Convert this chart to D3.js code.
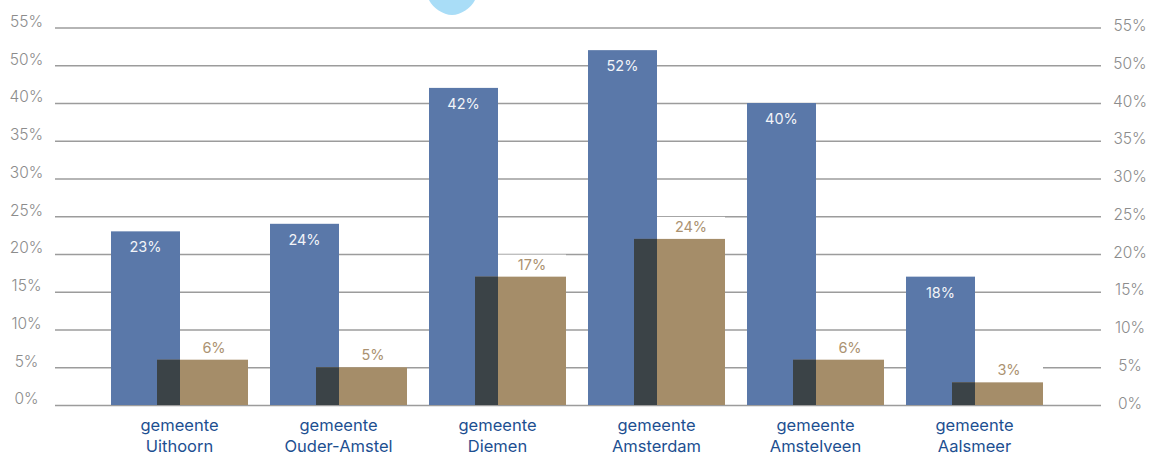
<!DOCTYPE html>
<meta charset="utf-8">
<style>
body { margin: 0; background: #fff; }
svg text { font-family: Inter, "Open Sans", sans-serif; }
.grid line { stroke: #9c9c9c; stroke-width: 1.3px; }
.grid text { fill: #8c8c8c; font-size: 15.5px; font-weight: 300; }
.cat { fill: #1d4f91; font-size: 16.5px; }
</style>
<svg width="1149" height="455"></svg>
<script src="https://d3js.org/d3.v7.min.js"></script>
<script>

// data
var categories = ["gemeente Uithoorn", "gemeente Ouder-Amstel", "gemeente Diemen",
                  "gemeente Amsterdam", "gemeente Amstelveen", "gemeente Aalsmeer"];
// bar heights as drawn (percent)
var blueValues = [23, 24, 42, 47, 40, 17];
var tanValues = [6, 5, 17, 22, 6, 3];
// labels as printed on the bars
var blueLabels = ["23%", "24%", "42%", "52%", "40%", "18%"];
var tanLabels = ["6%", "5%", "17%", "24%", "6%", "3%"];
// ticks (the printed axis skips 45%)
var tickValues = [0, 5, 10, 15, 20, 25, 30, 35, 40, 45, 50];
var tickLabels = ["0%", "5%", "10%", "15%", "20%", "25%", "30%", "35%", "40%", "50%", "55%"];

var svg = d3.select("svg");

var gridLeft = 55, gridRight = 1101;

var x = d3.scaleBand().domain(categories).range([100, 1054]);
var y = d3.scaleLinear().domain([0, 50]).range([405, 27.5]);

var blue = "#5a78a9", tan = "#a58d69", dark = "#3b4347";

// light blue shape at top edge
svg.append("path")
    .attr("d", "M429,0 C433,8 443,15 452,15 C461,15 471,8 475,0 Z")
    .attr("fill", "#a9ddf7");

// grid + left labels
var left = svg.append("g")
    .attr("class", "grid")
    .attr("transform", "translate(" + gridLeft + ",0)")
    .call(d3.axisLeft(y)
      .tickValues(tickValues)
      .tickFormat(function(d, i) { return tickLabels[i]; })
      .tickSize(-(gridRight - gridLeft)));
left.select(".domain").remove();
left.selectAll("text")
    .attr("x", -28.5).attr("dy", "-0.08em")
    .attr("text-anchor", "middle");

// right labels
var right = svg.append("g")
    .attr("class", "grid")
    .attr("transform", "translate(" + gridRight + ",0)")
    .call(d3.axisRight(y)
      .tickValues(tickValues)
      .tickFormat(function(d, i) { return tickLabels[i]; })
      .tickSize(0));
right.select(".domain").remove();
right.selectAll("text")
    .attr("x", 29).attr("dy", "0.2em")
    .attr("text-anchor", "middle");

function center(d) { return x(d) + x.bandwidth() / 2; }

var groups = svg.selectAll(".grp")
    .data(categories)
    .enter().append("g")
    .attr("class", "grp");

// white box behind the tan label
groups.append("rect")
    .attr("x", function(d) { return center(d) + 0.5; })
    .attr("width", 68)
    .attr("y", function(d, i) { return y(tanValues[i]) - 22; })
    .attr("height", 22)
    .attr("fill", "#fff");

groups.append("rect")
    .attr("x", function(d) { return center(d) - 68.5; })
    .attr("width", 69)
    .attr("y", function(d, i) { return y(blueValues[i]); })
    .attr("height", function(d, i) { return y(0) - y(blueValues[i]); })
    .attr("fill", blue);

groups.append("rect")
    .attr("x", function(d) { return center(d) - 22.5; })
    .attr("width", 91)
    .attr("y", function(d, i) { return y(tanValues[i]); })
    .attr("height", function(d, i) { return y(0) - y(tanValues[i]); })
    .attr("fill", tan);

// overlap of the two bars
groups.append("rect")
    .attr("x", function(d) { return center(d) - 22.5; })
    .attr("width", 23)
    .attr("y", function(d, i) { return y(Math.min(tanValues[i], blueValues[i])); })
    .attr("height", function(d, i) { return y(0) - y(Math.min(tanValues[i], blueValues[i])); })
    .attr("fill", dark);

groups.append("text")
    .attr("x", function(d) { return center(d) - 34; })
    .attr("y", function(d, i) { return y(blueValues[i]) + 21; })
    .attr("text-anchor", "middle")
    .attr("fill", "#f2f4f8")
    .style("font-size", "14.5px")
    .text(function(d, i) { return blueLabels[i]; });

groups.append("text")
    .attr("x", function(d) { return center(d) + 34.5; })
    .attr("y", function(d, i) { return y(tanValues[i]) - 7; })
    .attr("text-anchor", "middle")
    .attr("fill", "#ab9271")
    .style("font-size", "14.5px")
    .text(function(d, i) { return tanLabels[i]; });

// category labels on two lines
var cat = groups.append("text")
    .attr("class", "cat")
    .attr("text-anchor", "middle");
cat.append("tspan")
    .attr("x", center).attr("y", 431)
    .text(function(d) { return d.split(" ")[0]; });
cat.append("tspan")
    .attr("x", center).attr("y", 452)
    .text(function(d) { return d.split(" ").slice(1).join(" "); });

</script>
